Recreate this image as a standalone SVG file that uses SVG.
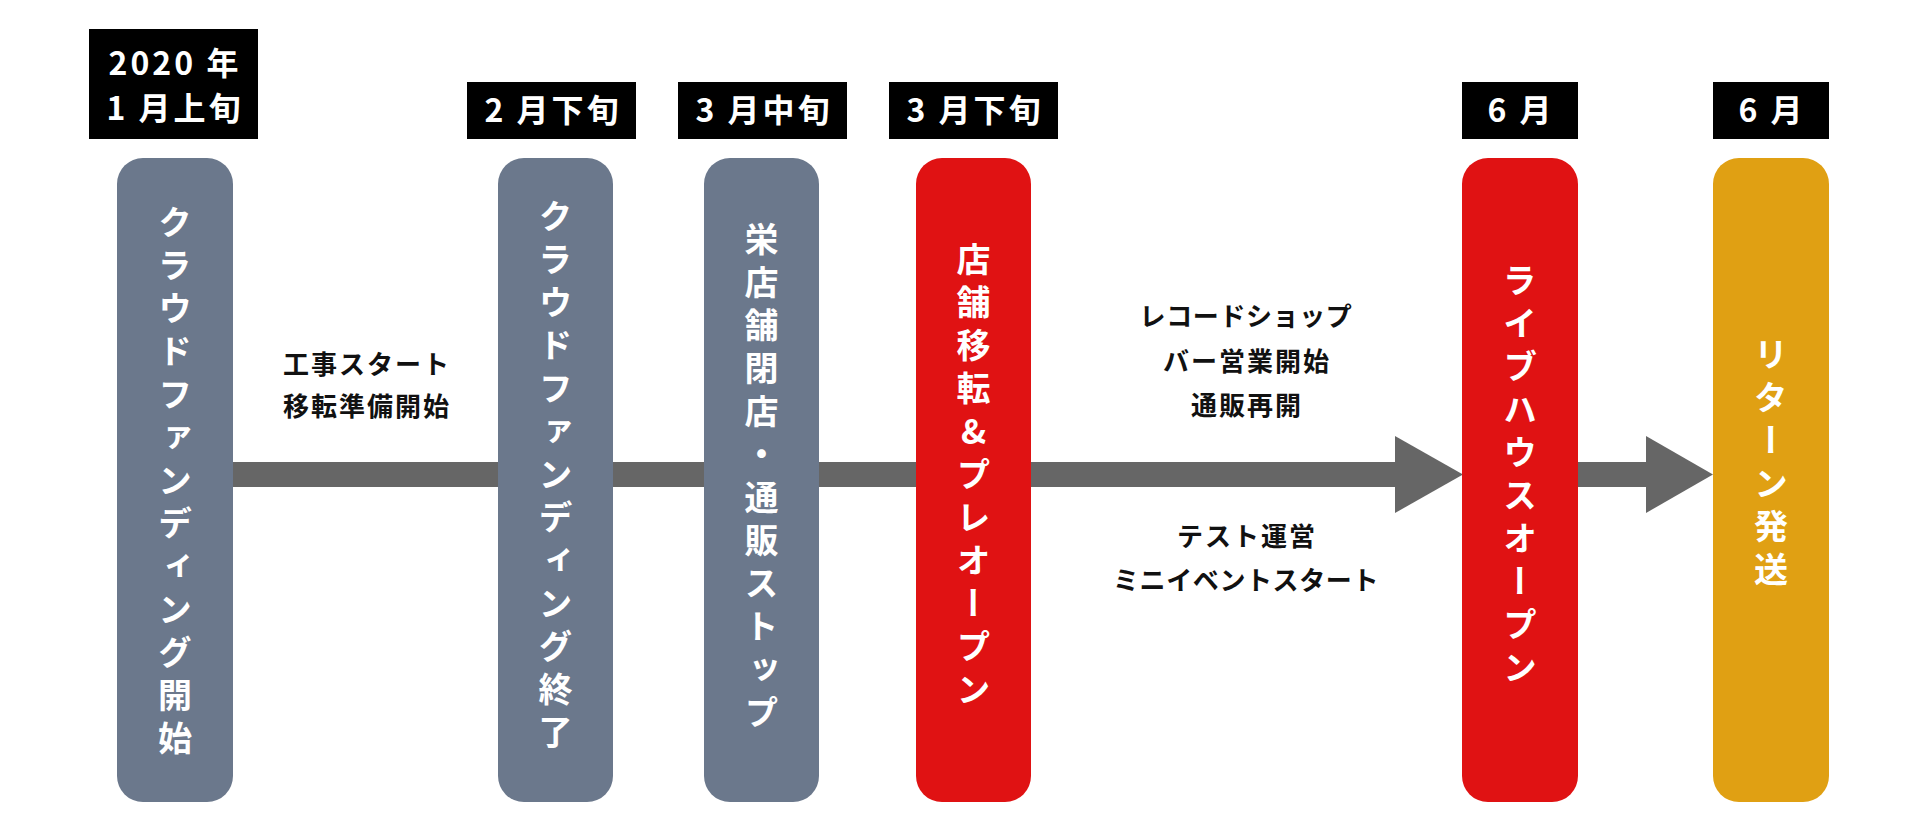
<svg xmlns="http://www.w3.org/2000/svg" width="1920" height="834" viewBox="0 0 1920 834">
<style>
  .jp { font-family: "Noto Sans CJK JP", "Noto Sans CJK SC", sans-serif; font-weight: 700; }
  .date-box { fill: #000000; }
  .date { fill: #ffffff; font-size: 32px; letter-spacing: 3px; text-anchor: middle; }
  .node-gray { fill: #6b788c; }
  .node-red { fill: #e01213; }
  .node-gold { fill: #e0a013; }
  .vtext { fill: #ffffff; font-size: 34px; letter-spacing: 9px; text-anchor: middle; writing-mode: vertical-rl; text-orientation: upright; }
  .label { fill: #111111; font-size: 26px; letter-spacing: 2px; text-anchor: middle; }
  .tight { letter-spacing: 0.6px; }
  .bar { fill: #666666; }
</style>
<rect x="0" y="0" width="1920" height="834" fill="#ffffff"/>

<g id="connectors">
  <rect class="bar" x="232" y="462" width="1164" height="25"/>
  <polygon class="bar" points="1395,436 1463,474.5 1395,513"/>
  <rect class="bar" x="1577" y="462" width="70" height="25"/>
  <polygon class="bar" points="1646,436 1713,474.5 1646,513"/>
</g>

<g id="labels">
  <text class="jp label" x="367" y="374">工事スタート</text>
  <text class="jp label" x="367" y="416">移転準備開始</text>
  <text class="jp label tight" x="1246" y="326">レコードショップ</text>
  <text class="jp label" x="1247" y="371">バー営業開始</text>
  <text class="jp label" x="1247" y="415">通販再開</text>
  <text class="jp label" x="1247" y="546">テスト運営</text>
  <text class="jp label tight" x="1246" y="590">ミニイベントスタート</text>
</g>

<g id="node1">
  <rect class="date-box" x="89" y="29" width="169" height="110"/>
  <text class="jp date" x="175" y="75">2020 年</text>
  <text class="jp date" x="175" y="120">1 月上旬</text>
  <rect class="node-gray" x="117" y="158" width="116" height="644" rx="26" ry="26"/>
  <text class="jp vtext" x="175" y="485">クラウドファンディング開始</text>
</g>

<g id="node2">
  <rect class="date-box" x="467" y="82" width="169" height="57"/>
  <text class="jp date" x="553" y="122">2 月下旬</text>
  <rect class="node-gray" x="498" y="158" width="115" height="644" rx="26" ry="26"/>
  <text class="jp vtext" x="555.5" y="479">クラウドファンディング終了</text>
</g>

<g id="node3">
  <rect class="date-box" x="678" y="82" width="169" height="57"/>
  <text class="jp date" x="764" y="122">3 月中旬</text>
  <rect class="node-gray" x="704" y="158" width="115" height="644" rx="26" ry="26"/>
  <text class="jp vtext" x="761.5" y="480">栄店舗閉店・通販ストップ</text>
</g>

<g id="node4">
  <rect class="date-box" x="889" y="82" width="169" height="57"/>
  <text class="jp date" x="975" y="122">3 月下旬</text>
  <rect class="node-red" x="916" y="158" width="115" height="644" rx="26" ry="26"/>
  <text class="jp vtext" x="973.5" y="479">店舗移転&amp;プレオープン</text>
</g>

<g id="node5">
  <rect class="date-box" x="1462" y="82" width="116" height="57"/>
  <text class="jp date" x="1521" y="122">6 月</text>
  <rect class="node-red" x="1462" y="158" width="116" height="644" rx="26" ry="26"/>
  <text class="jp vtext" x="1520" y="478">ライブハウスオープン</text>
</g>

<g id="node6">
  <rect class="date-box" x="1713" y="82" width="116" height="57"/>
  <text class="jp date" x="1772" y="122">6 月</text>
  <rect class="node-gold" x="1713" y="158" width="116" height="644" rx="26" ry="26"/>
  <text class="jp vtext" x="1771" y="466">リターン発送</text>
</g>
</svg>
